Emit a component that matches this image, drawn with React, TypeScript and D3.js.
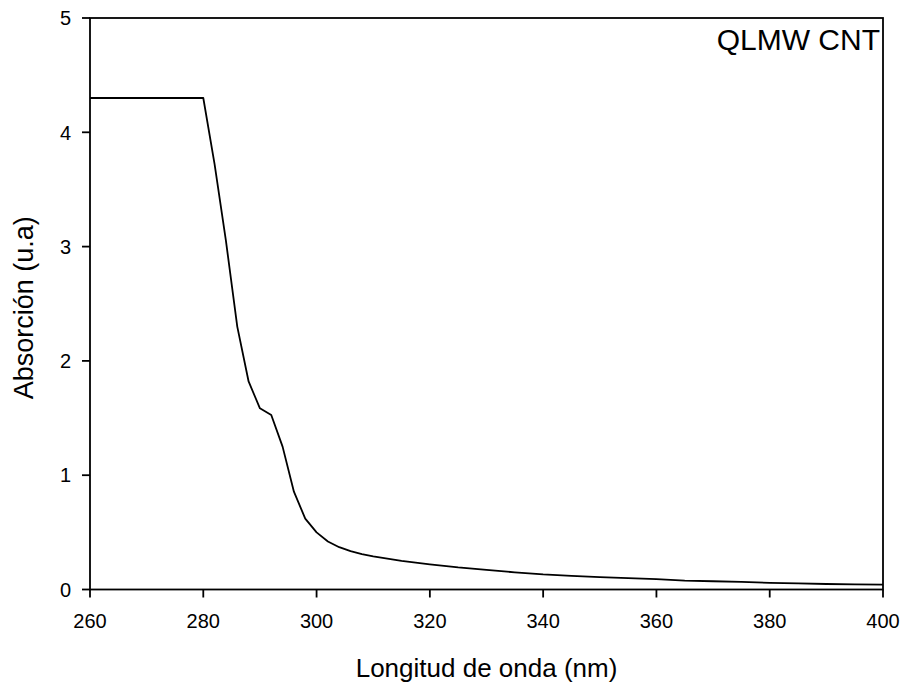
import React from "react";
import * as d3 from "d3";

const wavelength = [260, 280, 282, 284, 286, 288, 290, 292, 294, 296, 298, 300, 302, 304, 306, 308, 310, 315, 320, 325, 330, 335, 340, 345, 350, 355, 360, 365, 370, 375, 380, 385, 390, 395, 400];
const absorbance = [4.3, 4.3, 3.72, 3.05, 2.3, 1.82, 1.585, 1.527, 1.25, 0.856, 0.62, 0.5, 0.42, 0.37, 0.335, 0.31, 0.29, 0.25, 0.22, 0.193, 0.172, 0.15, 0.132, 0.12, 0.108, 0.1, 0.09, 0.077, 0.072, 0.066, 0.058, 0.053, 0.048, 0.045, 0.042];
const xTicks = [260, 280, 300, 320, 340, 360, 380, 400];
const yTicks = [0, 1, 2, 3, 4, 5];
const xTitle = "Longitud de onda (nm)";
const yTitle = "Absorción (u.a)";
const label = "QLMW CNT";

export default function App() {
  const W = 907, H = 688;
  const left = 90, right = 883, top = 18, bottom = 589.5;
  const x = d3.scaleLinear().domain([260, 400]).range([left, right]);
  const y = d3.scaleLinear().domain([0, 5]).range([bottom, top]);
  const pts = wavelength.map((w, i) => [w, absorbance[i]] as [number, number]);
  const line = d3.line<[number, number]>().x(d => x(d[0])).y(d => y(d[1]));
  const font = "'Liberation Sans', Arial, sans-serif";
  return (
    <svg width={W} height={H} style={{ position: "absolute", left: 0, top: 0, background: "#fff" }} fontFamily={font}>
      <rect x={0} y={0} width={W} height={H} fill="#fff" />
      <path d={line(pts) || ""} fill="none" stroke="#000" strokeWidth={1.8} strokeLinejoin="round" />
      <rect x={left} y={top} width={right - left} height={bottom - top} fill="none" stroke="#000" strokeWidth={1.8} />
      {xTicks.map(t => (
        <g key={"x" + t}>
          <line x1={x(t)} x2={x(t)} y1={bottom} y2={bottom + 8} stroke="#000" strokeWidth={1.8} />
          <text x={x(t)} y={628} textAnchor="middle" fontSize={20}>{t}</text>
        </g>
      ))}
      {yTicks.map(t => (
        <g key={"y" + t}>
          <line x1={left - 8} x2={left} y1={y(t)} y2={y(t)} stroke="#000" strokeWidth={1.8} />
          <text x={71} y={y(t)} dy="0.36em" textAnchor="end" fontSize={20}>{t}</text>
        </g>
      ))}
      <text x={(left + right) / 2} y={677} textAnchor="middle" fontSize={26}>{xTitle}</text>
      <text transform={`translate(33,${(top + bottom) / 2 + 4}) rotate(-90)`} textAnchor="middle" fontSize={27}>{yTitle}</text>
      <text x={880} y={50} textAnchor="end" fontSize={30}>{label}</text>
    </svg>
  );
}
